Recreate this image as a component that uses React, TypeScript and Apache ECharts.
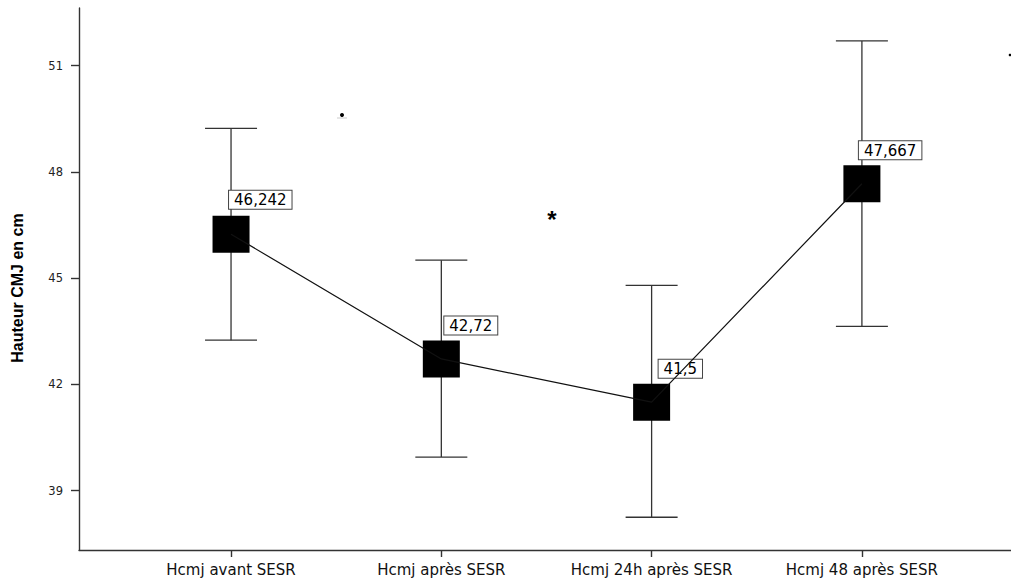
import React, { useEffect, useRef } from "react";
import * as echarts from "echarts";

const categories = ["Hcmj avant SESR", "Hcmj après SESR", "Hcmj 24h après SESR", "Hcmj 48 après SESR"];
const positions = [1, 2, 3, 4];
const means = [46.242, 42.72, 41.5, 47.667];
const meanLabels = ["46,242", "42,72", "41,5", "47,667"];
const lows = [43.25, 39.95, 38.25, 43.64];
const highs = [49.23, 45.51, 44.8, 51.7];
const yTicks = [39, 42, 45, 48, 51];
const labelOffsets = [[16.5, -7], [21.5, -6], [25.5, -6], [15.5, -6]];

export default function App() {
  const ref = useRef<HTMLDivElement>(null);
  useEffect(() => {
    if (!ref.current) return;
    const chart = echarts.init(ref.current, null, { renderer: "svg" });
    const axisColor = "#333";
    const font = "'DejaVu Sans', Arial, sans-serif";
    chart.setOption({
      animation: false,
      backgroundColor: "#fff",
      grid: { left: 79, right: 0, top: 8, bottom: 29 },
      xAxis: {
        type: "value",
        min: 0.277,
        max: 4.709,
        splitLine: { show: false },
        axisLine: { show: true, lineStyle: { color: axisColor, width: 1.4 } },
        axisTick: { show: true, customValues: positions, length: 7, lineStyle: { color: axisColor, width: 1.4 } },
        axisLabel: {
          customValues: positions,
          formatter: (v: number) => categories[Math.round(v) - 1] ?? "",
          color: "#111",
          fontSize: 15,
          fontFamily: font,
          margin: 12,
        },
      },
      yAxis: {
        type: "value",
        min: 37.325,
        max: 52.63,
        splitLine: { show: false },
        axisLine: { show: true, lineStyle: { color: axisColor, width: 1.4 } },
        axisTick: { show: true, customValues: yTicks, length: 8, lineStyle: { color: axisColor, width: 1.4 } },
        axisLabel: {
          customValues: yTicks,
          color: "#222",
          fontSize: 11.5,
          fontFamily: font,
          margin: 16,
        },
      },
      graphic: [
        {
          type: "text",
          x: 17,
          y: 288,
          rotation: Math.PI / 2,
          style: {
            text: "Hauteur CMJ en cm",
            fontSize: 16,
            fontWeight: "bold",
            fontFamily: "'Liberation Sans Narrow', 'Arial Narrow', Arial, sans-serif",
            fill: "#000",
            align: "center",
            verticalAlign: "middle",
          },
        },
        { type: "circle", shape: { cx: 342, cy: 115, r: 2 }, style: { fill: "#000" } },
        { type: "line", shape: { x1: 337, y1: 118, x2: 347, y2: 118 }, style: { stroke: "#aaa", lineWidth: 0.6 } },
        {
          type: "text",
          x: 552,
          y: 219,
          style: { text: "*", fontSize: 24, fontWeight: "bold", fontFamily: "Arial, sans-serif", fill: "#000", align: "center", verticalAlign: "middle" },
        },
        { type: "circle", shape: { cx: 1010, cy: 55, r: 1.3 }, style: { fill: "#000" } },
      ],
      series: [
        {
          type: "custom",
          z: 1,
          data: positions.map((p, i) => [p, lows[i], highs[i]]),
          renderItem: (params: any, api: any) => {
            const x = api.value(0);
            const pLo = api.coord([x, api.value(1)]);
            const pHi = api.coord([x, api.value(2)]);
            const hw = 26;
            const st = { stroke: "#333", lineWidth: 1.3 };
            return {
              type: "group",
              children: [
                { type: "line", shape: { x1: pHi[0], y1: pHi[1], x2: pLo[0], y2: pLo[1] }, style: st },
                { type: "line", shape: { x1: pHi[0] - hw, y1: pHi[1], x2: pHi[0] + hw, y2: pHi[1] }, style: st },
                { type: "line", shape: { x1: pLo[0] - hw, y1: pLo[1], x2: pLo[0] + hw, y2: pLo[1] }, style: st },
              ],
            };
          },
        },
        {
          type: "scatter",
          z: 2,
          symbol: "rect",
          symbolSize: 37,
          itemStyle: { color: "#000", opacity: 1 },
          data: positions.map((p, i) => ({
            value: [p, means[i]],
            label: {
              show: true,
              position: labelOffsets[i],
              align: "left",
              verticalAlign: "bottom",
              formatter: meanLabels[i],
              color: "#000",
              opacity: 1,
              fontSize: 15,
              fontFamily: font,
              backgroundColor: "#fff",
              borderColor: "#444",
              borderWidth: 1,
              padding: [2, 5, 1, 5],
            },
          })),
        },
        {
          type: "line",
          z: 3,
          symbol: "none",
          lineStyle: { color: "#111", width: 1.2 },
          data: positions.map((p, i) => [p, means[i]]),
        },
      ],
    });
    return () => chart.dispose();
  }, []);
  return <div ref={ref} style={{ position: "absolute", left: 0, top: 0, width: 1011, height: 579 }} />;
}
